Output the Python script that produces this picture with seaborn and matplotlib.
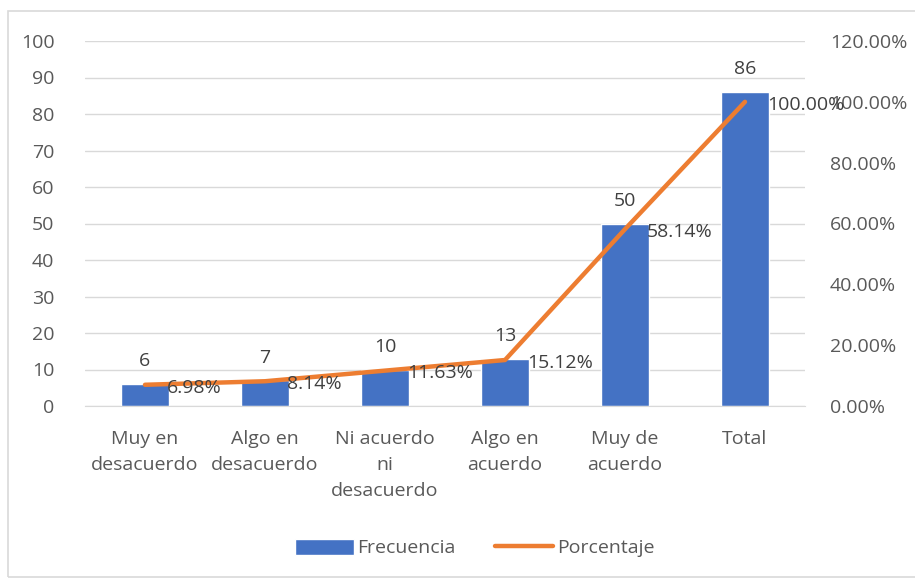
import seaborn as sns
import numpy as np
import matplotlib.pyplot as plt
from matplotlib.patches import Patch, Rectangle
from matplotlib.lines import Line2D

categories = ["Muy en\ndesacuerdo", "Algo en\ndesacuerdo", "Ni acuerdo\nni\ndesacuerdo",
              "Algo en\nacuerdo", "Muy de\nacuerdo", "Total"]
frecuencia = [6, 7, 10, 13, 50, 86]
porcentaje = [6.98, 8.14, 11.63, 15.12, 58.14, 100.00]

blue = "#4472C4"
orange = "#ED7D31"
gray = "#595959"
fs = 14

sns.set_style("white")
plt.rcParams["font.family"] = ["Open Sans", "DejaVu Sans"]

fig = plt.figure(figsize=(9.15, 5.79), dpi=100)
ax = fig.add_axes([85 / 915, 1 - 406 / 579, 720 / 915, 365 / 579])

# light frame around the chart
fig.patches.append(Rectangle((8 / 915, 2 / 579), 1, 1 - 13 / 579, transform=fig.transFigure,
                             fill=False, edgecolor="#D9D9D9", linewidth=1.2))

x = np.arange(len(categories))
sns.barplot(x=x, y=frecuencia, color=blue, width=0.4, saturation=1, ax=ax)
ax.set_xlim(-0.5, len(categories) - 0.5)
ax.set_ylim(0, 100)
ax.set_yticks(range(0, 101, 10))
ax.yaxis.grid(True, color="#D9D9D9", linewidth=1)
ax.set_axisbelow(True)
ax.set_xticks(x)
ax.set_xticklabels(categories, linespacing=1.6)
ax.tick_params(axis="both", length=0, labelsize=fs, labelcolor=gray)
ax.tick_params(axis="y", pad=22)
ax.tick_params(axis="x", pad=17)
for s in ax.spines.values():
    s.set_visible(False)
ax.spines["bottom"].set_visible(True)
ax.spines["bottom"].set_color("#D9D9D9")

for i, v in enumerate(frecuencia):
    ax.annotate(str(v), (i, v), xytext=(0, 10), textcoords="offset points",
                ha="center", va="bottom", fontsize=fs, color="#404040")

ax2 = ax.twinx()
sns.lineplot(x=x, y=porcentaje, color=orange, linewidth=3.2, ax=ax2, solid_capstyle="round")
ax2.set_ylim(0, 120)
ax2.set_yticks(range(0, 121, 20))
ax2.set_yticklabels([f"{t:.2f}%" for t in range(0, 121, 20)])
ax2.tick_params(axis="y", length=0, labelsize=fs, labelcolor=gray, pad=18)
ax2.grid(False)
for s in ax2.spines.values():
    s.set_visible(False)

for i, p in enumerate(porcentaje):
    ax2.annotate(f"{p:.2f}%", (i, p), xytext=(16, -2), textcoords="offset points",
                 ha="left", va="center", fontsize=fs, color="#404040")

handles = [Patch(facecolor=blue, label="Frecuencia"),
           Line2D([0], [0], color=orange, linewidth=3.2, solid_capstyle="round", label="Porcentaje")]
fig.legend(handles=handles, loc="center", bbox_to_anchor=(475 / 915, 1 - 548 / 579), ncol=2,
           frameon=False, fontsize=fs, labelcolor=gray, handlelength=3.0, handleheight=0.9,
           handletextpad=0.2, columnspacing=2.0)

fig.savefig("out.png", dpi=100)
